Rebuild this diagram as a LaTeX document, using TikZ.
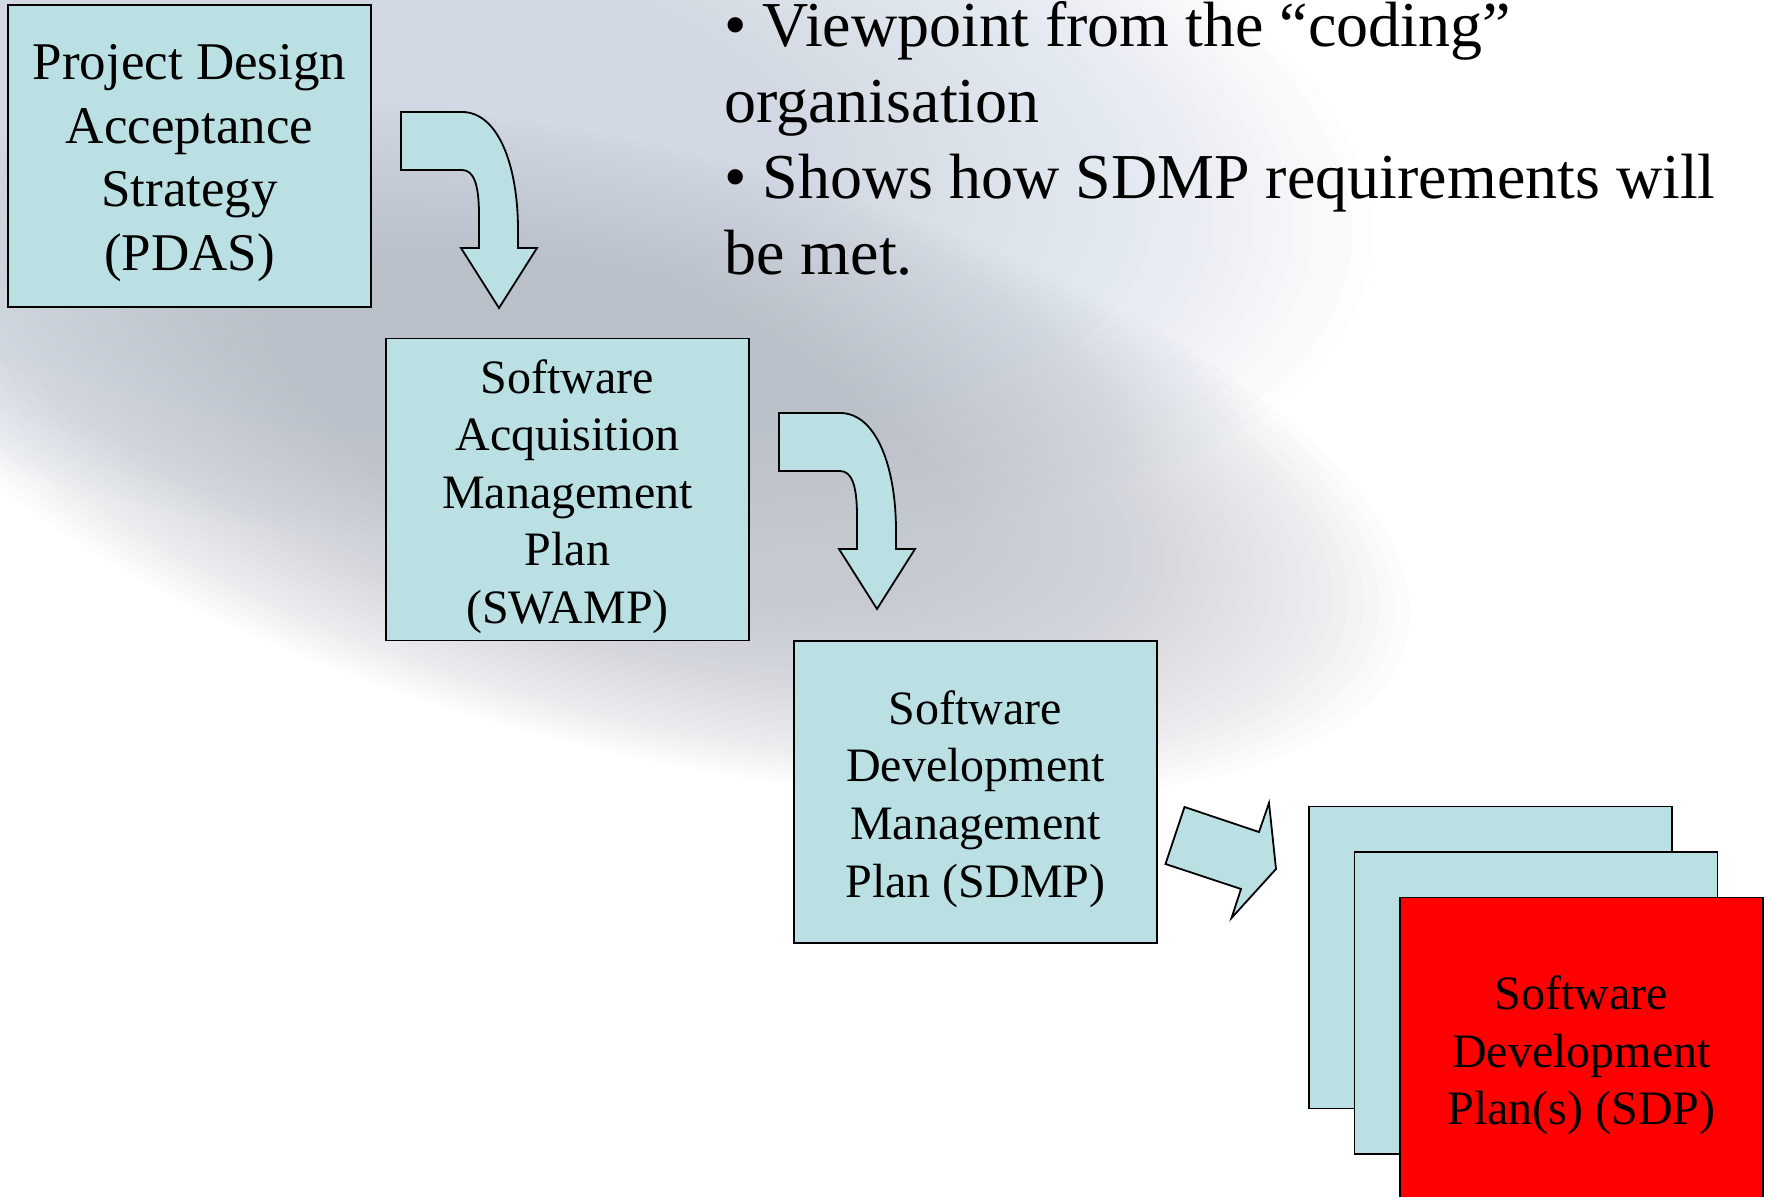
\documentclass[tikz,border=0pt]{standalone}
\usepackage{fontspec}
\setmainfont{Liberation Serif}

\definecolor{boxcyan}{RGB}{187,224,227}
\definecolor{bgblue}{RGB}{205,214,228}
\definecolor{bggray}{RGB}{186,192,202}

\tikzset{
  plan/.style={draw, line width=0.9pt, fill=boxcyan, minimum width=181.5pt,
    minimum height=151pt, inner sep=0pt},
  plantext/.style={align=center, inner sep=0pt, yshift=-3.5pt,
    font=\fontsize{24}{28.8}\selectfont},
  blockarrow/.style={draw, line width=0.9pt, fill=boxcyan, line join=miter},
}

\begin{document}
\begin{tikzpicture}[x=0.5pt, y=-0.5pt]
  \useasboundingbox (0,0) rectangle (1766,1197);
  \clip (0,0) rectangle (1766,1197);
  % background swoosh, soft edges from stacked ellipses
  \fill[white] (0,0) rectangle (1766,1197);
  \foreach \k in {0,...,29}
    \fill[bgblue, opacity=0.045, rotate around={-8:(380,120)}]
      (380,120) ellipse [x radius={1000*(1-0.02*\k)}, y radius={420*(1-0.02*\k)}];
  \foreach \k in {0,...,29}
    \fill[bggray, opacity=0.045, rotate around={-14:(640,450)}]
      (640,450) ellipse [x radius={790*(1-0.02*\k)}, y radius={300*(1-0.02*\k)}];

  % the plans
  \node[plan] (pdas) at (189.5,156) {};
  \node[plantext, font=\fontsize{26.5}{31.8}\selectfont] (pdas-text) at (pdas)
    {Project Design\\Acceptance\\Strategy\\(PDAS)};
  \node[plan] (swamp) at (567.5,489.5) {};
  \node[plantext] (swamp-text) at (swamp)
    {Software\\Acquisition\\Management\\Plan\\(SWAMP)};
  \node[plan] (sdmp) at (975.5,792) {};
  \node[plantext] (sdmp-text) at (sdmp)
    {Software\\Development\\Management\\Plan (SDMP)};
  \foreach \i/\d in {0/-91,1/-45.5}
    \node[plan] (sdp\i) at (1581.5+\d,1048.5+\d) {};
  \node[plan, fill=red] (sdp) at (1581.5,1048.5) {};
  \node[plantext] (sdp-text) at (sdp)
    {Software\\Development\\Plan(s) (SDP)};

  % arrows
  \foreach \dx/\dy in {0/0,378/301}
    \draw[blockarrow, shift={(\dx,\dy)}] (401,112) -- (462,112)
      .. controls (498,112) and (518,165) .. (518,230) -- (518,248) -- (537,248)
      -- (499,308) -- (461,248) -- (479,248) -- (479,215)
      .. controls (479,185) and (474,170) .. (462,170) -- (401,170) -- cycle;
  \draw[blockarrow] (1184.5,807) -- (1259,832) -- (1269,803) -- (1276,869)
    -- (1231.5,918) -- (1241,889) -- (1165.5,864) -- cycle;

  \node[anchor=base west, inner sep=0pt, align=left,
    font=\fontsize{32}{38}\selectfont] (notes) at (724,275)
    {• Viewpoint from the “coding”\\organisation\\• Shows how SDMP requirements will\\be met.};
\end{tikzpicture}
\end{document}
